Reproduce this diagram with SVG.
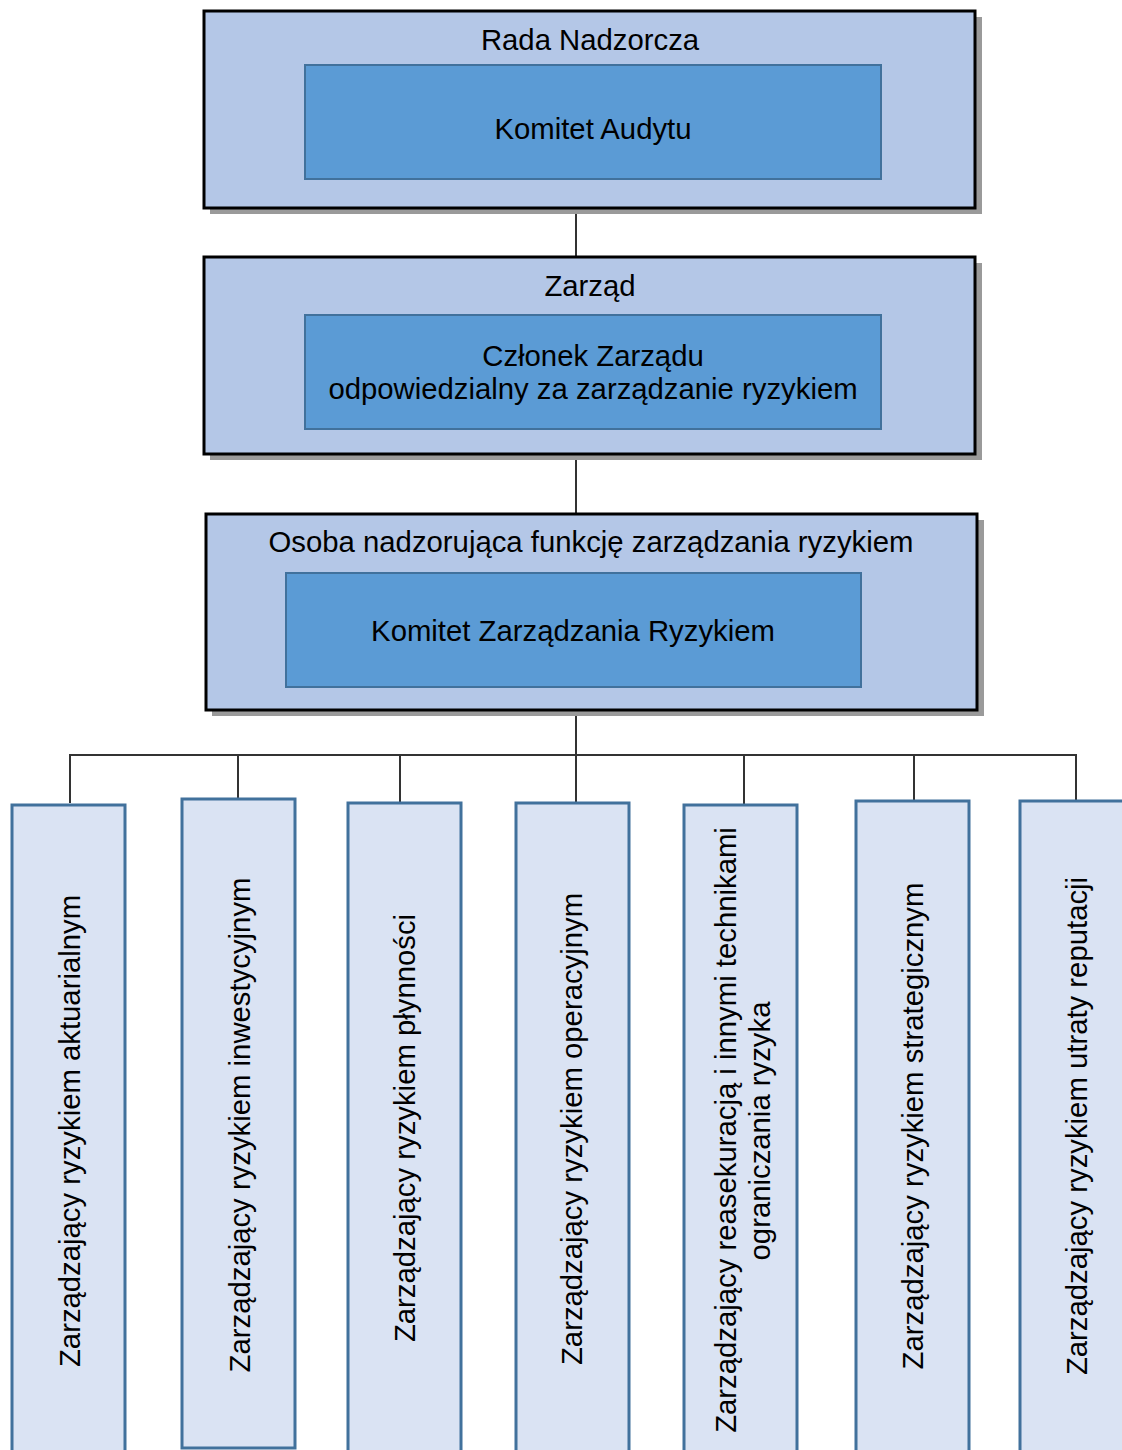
<svg xmlns="http://www.w3.org/2000/svg" width="1122" height="1450" viewBox="0 0 1122 1450">
<style>
.shadow{fill:#9a9a9a}
.outer{fill:#B4C7E7;stroke:#000;stroke-width:3}
.inner{fill:#5B9BD5;stroke:#41719C;stroke-width:2}
.leaf{fill:#DAE3F3;stroke:#41719C;stroke-width:3}
.conn{stroke:#333;stroke-width:2;fill:none}
text{font-family:"Liberation Sans",Arial,sans-serif;font-size:29.3px;fill:#000;text-anchor:middle}
</style>
<rect width="1122" height="1450" fill="#fff"/>
<g id="connectors">
<line class="conn" x1="576" y1="208" x2="576" y2="257"/>
<line class="conn" x1="576" y1="454" x2="576" y2="514"/>
<line class="conn" x1="576" y1="710" x2="576" y2="803"/>
<line class="conn" x1="69" y1="755" x2="1077" y2="755"/>
<line class="conn" x1="70" y1="755" x2="70" y2="803"/>
<line class="conn" x1="238" y1="755" x2="238" y2="804"/>
<line class="conn" x1="400" y1="755" x2="400" y2="803"/>
<line class="conn" x1="744" y1="755" x2="744" y2="805"/>
<line class="conn" x1="914" y1="755" x2="914" y2="801"/>
<line class="conn" x1="1076" y1="755" x2="1076" y2="801"/>
</g>
<g id="rada">
<rect class="shadow" x="210" y="17" width="772" height="197"/>
<rect class="outer" x="204" y="11" width="771" height="197"/>
<text x="590" y="50">Rada Nadzorcza</text>
</g>
<g id="komitet-audytu">
<rect class="inner" x="305" y="65" width="576" height="114"/>
<text x="593" y="139">Komitet Audytu</text>
</g>
<g id="zarzad">
<rect class="shadow" x="210" y="263" width="772" height="197"/>
<rect class="outer" x="204" y="257" width="771" height="197"/>
<text x="590" y="296">Zarząd</text>
</g>
<g id="czlonek">
<rect class="inner" x="305" y="315" width="576" height="114"/>
<text x="593" y="366">Członek Zarządu</text>
<text x="593" y="399">odpowiedzialny za zarządzanie ryzykiem</text>
</g>
<g id="osoba">
<rect class="shadow" x="212" y="520" width="772" height="196"/>
<rect class="outer" x="206" y="514" width="771" height="196"/>
<text x="591" y="552">Osoba nadzorująca funkcję zarządzania ryzykiem</text>
</g>
<g id="komitet-ryzyka">
<rect class="inner" x="286" y="573" width="575" height="114"/>
<text x="573" y="641">Komitet Zarządzania Ryzykiem</text>
</g>
<g id="leaf1">
<rect class="leaf" x="12" y="805" width="113" height="652"/>
<text transform="translate(80,1131) rotate(-90)">Zarządzający ryzykiem aktuarialnym</text>
</g>
<g id="leaf2">
<rect class="leaf" x="182" y="799" width="113" height="649"/>
<text transform="translate(250,1125) rotate(-90)">Zarządzający ryzykiem inwestycyjnym</text>
</g>
<g id="leaf3">
<rect class="leaf" x="348" y="803" width="113" height="652"/>
<text transform="translate(415,1128) rotate(-90)">Zarządzający ryzykiem płynności</text>
</g>
<g id="leaf4">
<rect class="leaf" x="516" y="803" width="113" height="652"/>
<text transform="translate(582,1129) rotate(-90)">Zarządzający ryzykiem operacyjnym</text>
</g>
<g id="leaf5">
<rect class="leaf" x="684" y="805" width="113" height="652"/>
<text transform="translate(736,1130) rotate(-90)">Zarządzający reasekuracją i innymi technikami</text>
<text transform="translate(770,1131) rotate(-90)">ograniczania ryzyka</text>
</g>
<g id="leaf6">
<rect class="leaf" x="856" y="801" width="113" height="652"/>
<text transform="translate(923,1126) rotate(-90)">Zarządzający ryzykiem strategicznym</text>
</g>
<g id="leaf7">
<rect class="leaf" x="1020" y="801" width="113" height="652"/>
<text transform="translate(1087,1126) rotate(-90)">Zarządzający ryzykiem utraty reputacji</text>
</g>
</svg>
